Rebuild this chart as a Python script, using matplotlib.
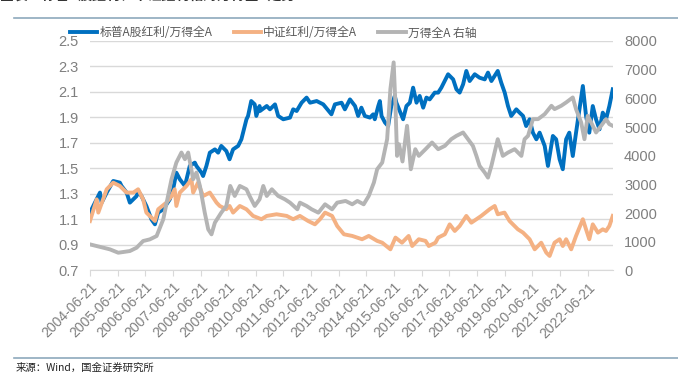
import numpy as np
import pandas as pd
import matplotlib
matplotlib.use("Agg")
import matplotlib.pyplot as plt
import matplotlib.dates as mdates
from matplotlib.lines import Line2D

plt.rcParams['font.family'] = ['Liberation Sans', 'Noto Sans CJK SC', 'DejaVu Sans']

# 标普A股红利/万得全A (left axis)
sp_dates = ['2004-06-21', '2004-10-31', '2004-11-22', '2005-01-28', '2005-04-24', '2005-07-21',
            '2005-08-12', '2005-10-18', '2005-11-30', '2006-02-27', '2006-03-19', '2006-05-02',
            '2006-07-06', '2006-09-11', '2006-10-27', '2006-12-09', '2007-02-14', '2007-05-11',
            '2007-06-24', '2007-08-06', '2007-09-21', '2007-11-27', '2008-01-30', '2008-04-06',
            '2008-04-27', '2008-07-03', '2008-07-24', '2008-09-06', '2008-10-21', '2008-12-27',
            '2009-02-08', '2009-03-21', '2009-05-27', '2009-07-09', '2009-08-24', '2009-10-30',
            '2009-12-12', '2010-02-17', '2010-03-10', '2010-04-21', '2010-06-06', '2010-06-27',
            '2010-08-09', '2010-08-15', '2010-11-12', '2010-12-24', '2011-03-01', '2011-04-12',
            '2011-06-18', '2011-09-15', '2011-10-27', '2011-12-12', '2012-02-15', '2012-04-21',
            '2012-06-06', '2012-09-01', '2012-11-27', '2013-03-15', '2013-04-30', '2013-07-27',
            '2013-09-09', '2013-11-15', '2014-01-21', '2014-03-03', '2014-04-15', '2014-05-30',
            '2014-08-06', '2014-09-18', '2014-10-09', '2014-11-24', '2014-12-15', '2015-01-06',
            '2015-02-21', '2015-04-03', '2015-04-24', '2015-05-15', '2015-06-30', '2015-07-21',
            '2015-09-03', '2015-10-18', '2015-12-01', '2016-01-15', '2016-02-27', '2016-04-12',
            '2016-05-24', '2016-07-09', '2016-08-21', '2016-10-03', '2016-12-09', '2017-01-23',
            '2017-03-06', '2017-06-03', '2017-08-09', '2017-09-21', '2017-11-03', '2017-12-18',
            '2018-01-30', '2018-03-15', '2018-05-21', '2018-07-24', '2018-09-30', '2018-11-12',
            '2018-12-27', '2019-03-21', '2019-05-06', '2019-06-21', '2019-08-03', '2019-09-15',
            '2019-11-21', '2020-01-03', '2020-02-18', '2020-03-30', '2020-05-15', '2020-06-27',
            '2020-08-12', '2020-09-24', '2020-11-30', '2021-01-12', '2021-03-18', '2021-04-30',
            '2021-06-15', '2021-07-27', '2021-09-09', '2021-10-21', '2021-12-06', '2022-01-18',
            '2022-04-18', '2022-05-30', '2022-07-12', '2022-08-27', '2022-10-09', '2022-11-24',
            '2023-01-06', '2023-02-18', '2023-04-03', '2023-05-18']
sp_vals = [1.154, 1.311, 1.232, 1.311, 1.402, 1.389, 1.363, 1.311, 1.232, 1.284, 1.324, 1.284,
           1.206, 1.101, 1.062, 1.154, 1.180, 1.258, 1.337, 1.467, 1.415, 1.363, 1.520, 1.546,
           1.520, 1.467, 1.441, 1.520, 1.624, 1.650, 1.624, 1.677, 1.637, 1.572, 1.650, 1.677,
           1.729, 1.886, 1.912, 2.029, 2.003, 1.912, 1.990, 1.951, 1.990, 1.964, 2.003, 1.912,
           1.886, 1.899, 1.964, 1.951, 2.016, 2.056, 2.016, 2.029, 2.003, 1.925, 2.003, 2.016,
           1.964, 2.042, 1.990, 1.912, 1.977, 1.912, 1.899, 1.925, 1.886, 1.990, 2.029, 1.912,
           1.860, 1.833, 1.912, 1.990, 2.069, 2.016, 1.951, 1.886, 1.990, 2.016, 2.134, 2.016,
           2.069, 1.977, 2.056, 2.042, 2.095, 2.095, 2.134, 2.239, 2.199, 2.121, 2.095, 2.160,
           2.265, 2.186, 2.239, 2.212, 2.199, 2.252, 2.186, 2.265, 2.173, 2.095, 1.990, 1.912,
           1.964, 1.938, 1.912, 1.833, 1.886, 1.781, 1.729, 1.781, 1.677, 1.520, 1.755, 1.729,
           1.572, 1.494, 1.729, 1.781, 1.598, 1.781, 2.147, 1.912, 1.781, 1.990, 1.886, 1.807,
           1.938, 1.886, 1.990, 2.121]

# 中证红利/万得全A (left axis)
cs_dates = ['2004-06-21', '2004-09-18', '2004-10-09', '2005-01-28', '2005-04-24', '2005-07-21',
            '2005-10-18', '2006-01-15', '2006-03-19', '2006-05-24', '2006-07-06', '2006-09-11',
            '2006-10-27', '2006-12-09', '2007-03-27', '2007-06-03', '2007-07-15', '2007-08-06',
            '2007-09-21', '2007-12-18', '2008-02-21', '2008-03-15', '2008-05-18', '2008-07-24',
            '2008-10-21', '2009-01-18', '2009-03-01', '2009-05-27', '2009-07-09', '2009-08-24',
            '2009-11-21', '2010-02-17', '2010-05-15', '2010-09-03', '2010-11-12', '2011-03-21',
            '2011-08-03', '2011-10-27', '2012-01-24', '2012-05-12', '2012-08-09', '2012-10-15',
            '2012-12-21', '2013-03-24', '2013-05-30', '2013-08-27', '2013-12-15', '2014-04-24',
            '2014-07-21', '2014-11-09', '2015-01-15', '2015-05-03', '2015-07-09', '2015-10-03',
            '2015-12-30', '2016-02-15', '2016-05-12', '2016-08-09', '2016-09-21', '2016-12-18',
            '2017-01-23', '2017-04-21', '2017-06-24', '2017-08-30', '2017-11-03', '2018-01-30',
            '2018-04-06', '2018-06-12', '2018-08-15', '2018-12-03', '2019-02-09', '2019-03-21',
            '2019-06-18', '2019-08-24', '2019-12-12', '2020-02-18', '2020-05-15', '2020-07-21',
            '2020-10-15', '2020-12-21', '2021-02-03', '2021-04-09', '2021-06-15', '2021-07-27',
            '2021-09-09', '2021-11-15', '2022-01-18', '2022-04-18', '2022-05-30', '2022-07-12',
            '2022-08-27', '2022-11-03', '2023-01-06', '2023-02-18', '2023-04-03', '2023-05-18']
cs_vals = [1.088, 1.258, 1.154, 1.337, 1.389, 1.363, 1.311, 1.311, 1.337, 1.258, 1.154, 1.115,
           1.088, 1.180, 1.232, 1.284, 1.337, 1.206, 1.311, 1.363, 1.415, 1.311, 1.389, 1.284,
           1.311, 1.232, 1.206, 1.180, 1.206, 1.154, 1.206, 1.180, 1.128, 1.102, 1.128, 1.141,
           1.128, 1.102, 1.128, 1.088, 1.062, 1.102, 1.154, 1.128, 1.049, 0.984, 0.971, 0.945,
           0.971, 0.932, 0.918, 0.866, 0.958, 0.918, 0.971, 0.892, 0.945, 0.932, 0.892, 0.918,
           0.958, 0.984, 1.062, 1.010, 1.049, 1.128, 1.075, 1.102, 1.128, 1.180, 1.206, 1.141,
           1.154, 1.088, 1.023, 0.997, 0.945, 0.866, 0.918, 0.840, 0.814, 0.918, 0.945, 0.892,
           0.945, 0.866, 0.971, 1.102, 1.023, 0.945, 1.062, 0.997, 1.023, 1.010, 1.049, 1.128]

# 万得全A (right axis)
wa_dates = ['2004-06-21', '2004-12-15', '2005-03-12', '2005-06-30', '2005-11-30', '2006-02-27',
            '2006-05-24', '2006-08-21', '2006-11-18', '2007-02-14', '2007-04-18', '2007-06-03',
            '2007-08-06', '2007-10-12', '2007-11-27', '2008-01-09', '2008-03-15', '2008-04-27',
            '2008-06-12', '2008-08-15', '2008-09-30', '2008-11-12', '2008-12-27', '2009-03-21',
            '2009-05-27', '2009-07-18', '2009-09-15', '2009-11-21', '2010-02-17', '2010-03-30',
            '2010-06-06', '2010-08-09', '2010-09-27', '2010-11-12', '2011-01-18', '2011-04-12',
            '2011-07-09', '2011-09-15', '2011-12-21', '2012-01-24', '2012-04-21', '2012-06-27',
            '2012-09-24', '2012-12-21', '2013-03-24', '2013-05-30', '2013-09-18', '2013-12-15',
            '2014-02-21', '2014-05-15', '2014-07-21', '2014-09-27', '2014-11-09', '2015-01-15',
            '2015-03-21', '2015-05-03', '2015-06-15', '2015-07-09', '2015-07-30', '2015-08-25',
            '2015-10-10', '2015-12-09', '2016-01-28', '2016-03-27', '2016-05-12', '2016-08-09',
            '2016-11-03', '2017-01-23', '2017-04-21', '2017-07-15', '2017-09-21', '2017-12-18',
            '2018-02-21', '2018-04-27', '2018-06-12', '2018-07-24', '2018-09-30', '2018-11-12',
            '2018-12-27', '2019-03-21', '2019-05-27', '2019-08-03', '2019-10-30', '2020-01-27',
            '2020-03-09', '2020-04-24', '2020-06-27', '2020-09-03', '2020-11-30', '2021-02-27',
            '2021-04-09', '2021-07-06', '2021-09-09', '2021-12-06', '2022-01-18', '2022-03-27',
            '2022-05-09', '2022-06-21', '2022-08-06', '2022-10-09', '2022-12-15', '2023-02-18',
            '2023-04-03', '2023-05-18']
wa_vals = [910, 794, 736, 619, 678, 794, 1027, 1085, 1201, 1783, 2598, 3180,
           3762, 4111, 3879, 4111, 3180, 3413, 2947, 2016, 1434, 1260, 1667, 2016,
           2249, 2947, 2598, 2947, 2831, 2598, 2249, 2482, 2947, 2598, 2831, 2598,
           2482, 2365, 2133, 2365, 2249, 2133, 2016, 2307, 2133, 2365, 2424, 2307,
           2424, 2307, 2598, 3064, 3529, 3762, 4577, 6323, 7254, 5741, 3995, 4400,
           3800, 5043, 3529, 4228, 3995, 4228, 4461, 4228, 4344, 4577, 4693, 4810,
           4577, 4344, 3995, 3646, 3413, 3238, 3646, 4577, 3995, 4111, 4228, 3995,
           4577, 4693, 5275, 5275, 5450, 5741, 5625, 5741, 5857, 6032, 5625, 5159,
           4577, 5392, 5159, 4810, 5043, 5275, 5101, 5043]

left_ticks = [0.7, 0.9, 1.1, 1.3, 1.5, 1.7, 1.9, 2.1, 2.3, 2.5]
right_ticks = [0, 1000, 2000, 3000, 4000, 5000, 6000, 7000, 8000]
x_tick_dates = ['%d-06-21' % y for y in range(2004, 2023)]

labels = ['标普A股红利/万得全A', '中证红利/万得全A', '万得全A 右轴']
c_blue, c_orange, c_grey = '#0070C0', '#F4B183', '#B4B4B4'
txt_col = '#7F7F7F'

fig = plt.figure(figsize=(6.78, 3.75), dpi=100)
ax = fig.add_axes([0.1327, 0.2787, 0.904 - 0.1327, 0.8907 - 0.2787])
ax2 = ax.twinx()

ax.plot(pd.to_datetime(sp_dates), sp_vals, color=c_blue, lw=2.8, solid_joinstyle='round')
ax.plot(pd.to_datetime(cs_dates), cs_vals, color=c_orange, lw=2.8, solid_joinstyle='round')
ax2.plot(pd.to_datetime(wa_dates), wa_vals, color=c_grey, lw=2.8, solid_joinstyle='round')

ax.set_ylim(0.7, 2.5)
ax.set_yticks(left_ticks)
ax.set_yticklabels(['%.1f' % v for v in left_ticks])
ax2.set_ylim(0, 8000)
ax2.set_yticks(right_ticks)
ax2.set_yticklabels([str(v) for v in right_ticks])

ax.set_xlim(pd.Timestamp('2004-06-21'), pd.Timestamp('2023-05-20'))
ax.set_xticks(pd.to_datetime(x_tick_dates))
ax.set_xticklabels(x_tick_dates, rotation=45, ha='right', va='top',
                   rotation_mode='anchor', fontsize=10, color=txt_col)

ax.grid(axis='y', color='#D9D9D9', lw=1)
ax.set_axisbelow(True)
for a in (ax, ax2):
    for s in a.spines.values():
        s.set_visible(False)
ax.spines['bottom'].set_visible(True)
ax.spines['bottom'].set_color('#D9D9D9')
ax.tick_params(axis='x', length=4, color='#D9D9D9', pad=3)
ax.tick_params(axis='y', length=0, pad=8, labelsize=10.5, labelcolor=txt_col)
ax2.tick_params(axis='y', length=0, pad=8, labelsize=10.5, labelcolor=txt_col)

handles = [Line2D([], [], color=c, lw=2.8) for c in (c_blue, c_orange, c_grey)]
fig.legend(handles, labels, loc='center', bbox_to_anchor=(0.403, 0.912), ncol=3,
           frameon=False, handlelength=2.3, handletextpad=0.2, columnspacing=1.8,
           prop={'family': ['Noto Sans CJK SC', 'DejaVu Sans'], 'size': 8.5},
           labelcolor='#595959')

# header / footer decorations
fig.add_artist(Line2D([14 / 678, 1], [1 - 18 / 375] * 2, color='#8EA9BC', lw=1.2))
fig.add_artist(Line2D([14 / 678, 1], [1 - 358 / 375] * 2, color='#8EA9BC', lw=1.2))
fig.text(0.0, 1 - 3 / 375, '图表：标普A股红利、中证红利相对万得全A走势', ha='left', va='bottom',
         fontsize=10, fontweight='bold', color='#333333',
         family=['Noto Sans CJK SC', 'DejaVu Sans'])
fig.text(16 / 678, 1 - 368 / 375, '来源：Wind，国金证券研究所', ha='left', va='center',
         fontsize=7.5, color='#222222', family=['Noto Sans CJK SC', 'DejaVu Sans'])

fig.savefig('out.png', dpi=100)
